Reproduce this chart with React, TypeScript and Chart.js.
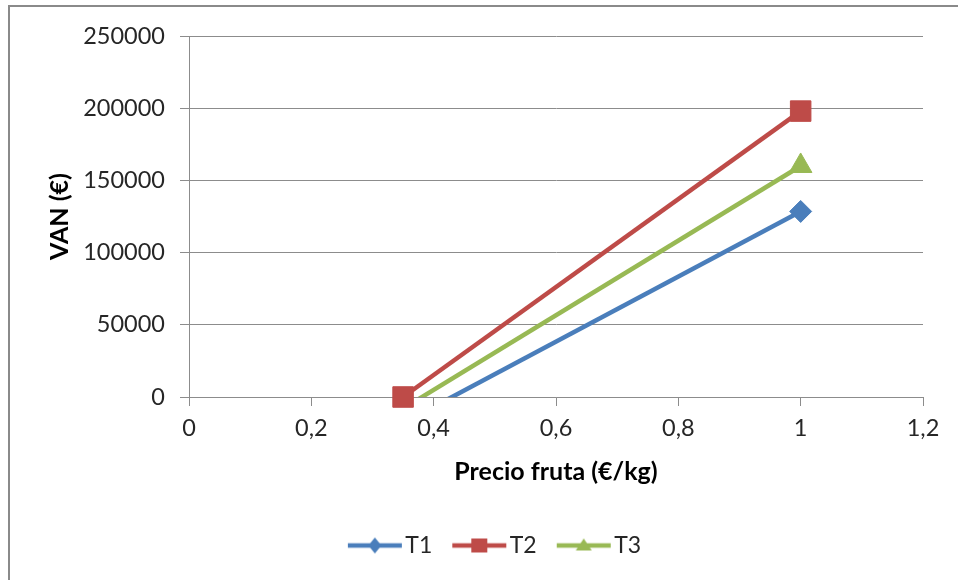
import React, { useEffect, useRef } from 'react';
import { Chart, registerables } from 'chart.js';
Chart.register(...registerables);

const seriesNames = ['T1', 'T2', 'T3'];
const priceX = [0.35, 1];
const t1Values = [-18000, 128500];
const t2Values = [0, 198000];
const t3Values = [-8000, 160000];
const xTickLabels = ['0', '0,2', '0,4', '0,6', '0,8', '1', '1,2'];
const yTickLabels = ['0', '50000', '100000', '150000', '200000', '250000'];
const xTitle = 'Precio fruta (€/kg)';
const yTitle = 'VAN (€)';

const colors = ['#4A7EBB', '#BE4B48', '#98B954'];
const markerKinds = ['diamond', 'square', 'triangle'];
const FONT = "Lato, 'Open Sans', sans-serif";
const GRID = '#8c8c8c';
const TEXT = '#262626';

function makeLegendIcon(kind: string, color: string) {
  const c = document.createElement('canvas');
  c.width = 100;
  c.height = 30;
  const g = c.getContext('2d')!;
  g.strokeStyle = color;
  g.lineWidth = 4.5;
  g.beginPath();
  g.moveTo(24, 15);
  g.lineTo(78, 15);
  g.stroke();
  g.fillStyle = color;
  const cx = 51, cy = 15;
  g.beginPath();
  if (kind === 'diamond') {
    g.moveTo(cx, cy - 8);
    g.lineTo(cx + 6.5, cy);
    g.lineTo(cx, cy + 8);
    g.lineTo(cx - 6.5, cy);
  } else if (kind === 'square') {
    g.rect(cx - 8, cy - 7, 16, 14);
  } else {
    g.moveTo(cx, cy - 7);
    g.lineTo(cx + 8, cy + 5);
    g.lineTo(cx - 8, cy + 5);
  }
  g.closePath();
  g.fill();
  return c;
}

export default function App() {
  const ref = useRef<HTMLCanvasElement>(null);
  useEffect(() => {
    const valuesList = [t1Values, t2Values, t3Values];
    const styles = ['rectRot', 'rect', 'triangle'];
    const radii = [11, 14.5, 13];
    const datasets = seriesNames.map((name, i) => ({
      label: name,
      data: priceX.map((x, j) => ({ x, y: valuesList[i][j] })),
      borderColor: colors[i],
      backgroundColor: colors[i],
      borderWidth: 4.5,
      pointStyle: styles[i],
      pointRadius: valuesList[i].map((v) => (v < 0 ? 0 : radii[i])),
      pointBackgroundColor: colors[i],
      pointBorderColor: colors[i],
      pointBorderWidth: 1,
      tension: 0,
      clip: i === 1 ? 20 : { left: 20, top: 20, right: 20, bottom: 0 },
    }));
    const icons = seriesNames.map((_, i) => makeLegendIcon(markerKinds[i], colors[i]));
    const chart = new Chart(ref.current!, {
      type: 'line',
      data: { datasets },
      options: {
        responsive: false,
        animation: false,
        layout: { padding: { left: 72, right: 35, top: 36, bottom: 13 } },
        plugins: {
          tooltip: { enabled: false },
          legend: {
            position: 'bottom',
            labels: {
              usePointStyle: true,
              pointStyleWidth: 40,
              boxHeight: 23,
              padding: 26,
              color: TEXT,
              font: { family: FONT, size: 23 },
              generateLabels: () =>
                seriesNames.map((name, i) => ({
                  text: name,
                  pointStyle: icons[i],
                  fillStyle: colors[i],
                  strokeStyle: colors[i],
                  lineWidth: 0,
                  hidden: false,
                  datasetIndex: i,
                  fontColor: TEXT,
                })),
            },
          },
        },
        scales: {
          x: {
            type: 'linear',
            min: 0,
            max: 1.2,
            afterFit: (s: any) => {
              s.height = 111;
            },
            ticks: {
              stepSize: 0.2,
              autoSkip: false,
              maxRotation: 0,
              padding: 8,
              color: TEXT,
              font: { family: FONT, size: 23.5 },
              callback: (_v: any, i: number) => xTickLabels[i],
            },
            grid: { drawOnChartArea: false, drawTicks: true, tickLength: 9, color: GRID },
            border: { color: GRID },
            title: {
              display: true,
              text: xTitle,
              color: '#000',
              font: { family: FONT, size: 25, weight: 'bold' },
              padding: { top: 0, bottom: 21 },
            },
          },
          y: {
            min: 0,
            max: 250000,
            afterFit: (s: any) => {
              s.width = 117;
            },
            ticks: {
              stepSize: 50000,
              padding: 15,
              color: TEXT,
              font: { family: FONT, size: 23.5 },
              callback: (_v: any, i: number) => yTickLabels[i],
            },
            grid: { tickLength: 9, color: GRID },
            border: { color: GRID },
            title: {
              display: true,
              text: yTitle,
              color: '#000',
              font: { family: FONT, size: 25, weight: 'bold' },
              padding: { top: -27, bottom: 0 },
            },
          },
        },
      } as any,
    });
    return () => chart.destroy();
  }, []);
  return (
    <>
      <div
        style={{
          position: 'fixed',
          left: 8,
          top: 5,
          width: 1100,
          height: 800,
          border: '2px solid #8a8a8a',
          boxSizing: 'border-box',
        }}
      />
      <canvas
        ref={ref}
        width={958}
        height={580}
        style={{ position: 'fixed', left: 0, top: 0, width: 958, height: 580 }}
      />
    </>
  );
}
